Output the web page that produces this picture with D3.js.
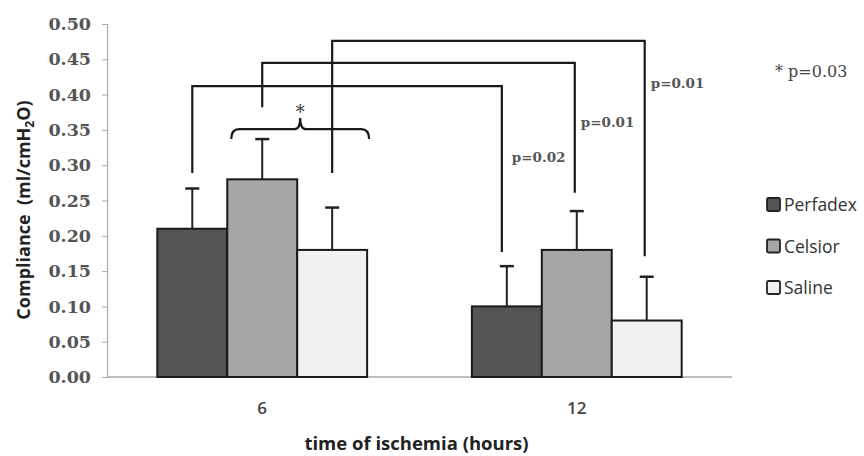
<!DOCTYPE html>
<html>
<head>
<meta charset="utf-8">
<script src="https://cdn.jsdelivr.net/npm/d3@7"></script>
<style>
  html, body { margin: 0; padding: 0; background: #fff; }
  svg { display: block; }
</style>
</head>
<body>
<svg id="chart" width="864" height="456"></svg>
<script>
// ---- data ----
const categories = ["6", "12"];
const seriesNames = ["Perfadex", "Celsior", "Saline"];
const perfadex = [0.21, 0.10];
const celsior  = [0.28, 0.18];
const saline   = [0.18, 0.08];
const perfadexErr = [0.057, 0.057];
const celsiorErr  = [0.057, 0.055];
const salineErr   = [0.060, 0.062];
const yTicks = [0, 0.05, 0.10, 0.15, 0.20, 0.25, 0.30, 0.35, 0.40, 0.45, 0.50];
// significance brackets: series index, top level, left leg bottom, right leg bottom, label
const bracketSeries = [0, 1, 2];
const bracketTop    = [0.412, 0.445, 0.476];
const bracketLeftEnd  = [0.289, 0.382, 0.289];
const bracketRightEnd = [0.177, 0.261, 0.171];
const bracketLabels = ["p=0.02", "p=0.01", "p=0.01"];
const bracketLabelLevel = [0.305, 0.354, 0.409];
const braceLevels = [0.351, 0.337, 0.367]; // level, hook end, peak
const braceStarLevel = 0.382;
const noteText = "* p=0.03";

const values = [perfadex, celsior, saline];
const errors = [perfadexErr, celsiorErr, salineErr];
const colors = ["#555555", "#a6a6a6", "#f0f0f0"];

const svg = d3.select("#chart");
const mLeft = 107, mRight = 732, mTop = 24, mBottom = 377;

const x0 = d3.scaleBand().domain(categories).range([mLeft, mRight])
  .paddingInner(0.333).paddingOuter(0.16);
const x1 = d3.scaleBand().domain(d3.range(seriesNames.length)).range([0, x0.bandwidth()]);
const y = d3.scaleLinear().domain([0, 0.5]).range([mBottom, mTop]);

const serif = "'DejaVu Serif', serif";
const sans = "'Open Sans', sans-serif";

// y axis
const yAxis = svg.append("g").attr("transform", `translate(${mLeft},0)`)
  .call(d3.axisLeft(y).tickValues(yTicks).tickFormat(d3.format(".2f")).tickSize(5).tickPadding(11));
yAxis.select(".domain").attr("stroke", "#aaa").attr("stroke-width", 1.2);
yAxis.selectAll(".tick line").attr("stroke", "#aaa");
yAxis.selectAll(".tick text").attr("font-family", serif).attr("font-size", 17.5)
  .attr("fill", "#555").attr("font-weight", "bold");

// x axis
const xAxis = svg.append("g").attr("transform", `translate(0,${mBottom})`)
  .call(d3.axisBottom(x0).tickSize(0).tickPadding(25));
xAxis.select(".domain").attr("stroke", "#aaa").attr("stroke-width", 1.5)
  .attr("d", `M${mLeft},0H${mRight}`);
xAxis.selectAll(".tick text").attr("font-family", sans).attr("font-size", 17)
  .attr("fill", "#444").attr("font-weight", "600");

// bars
const barData = [];
categories.forEach((c, ci) => seriesNames.forEach((s, si) => {
  barData.push({ c, ci, si, v: values[si][ci], e: errors[si][ci] });
}));
const bx = d => x0(d.c) + x1(d.si);
const bcx = d => bx(d) + x1.bandwidth() / 2;

svg.append("g").selectAll("line").data(barData).join("line")
  .attr("x1", bcx).attr("x2", bcx)
  .attr("y1", d => y(d.v)).attr("y2", d => y(d.v + d.e))
  .attr("stroke", "#222").attr("stroke-width", 2);
svg.append("g").selectAll("line").data(barData).join("line")
  .attr("x1", d => bcx(d) - 7).attr("x2", d => bcx(d) + 7)
  .attr("y1", d => y(d.v + d.e)).attr("y2", d => y(d.v + d.e))
  .attr("stroke", "#222").attr("stroke-width", 2.5);

svg.append("g").selectAll("rect").data(barData).join("rect")
  .attr("x", bx).attr("y", d => y(d.v))
  .attr("width", x1.bandwidth()).attr("height", d => y(0) - y(d.v))
  .attr("fill", d => colors[d.si]).attr("stroke", "#1a1a1a").attr("stroke-width", 2);

// brackets
const bline = svg.append("g").attr("fill", "none").attr("stroke", "#1a1a1a").attr("stroke-width", 2.2);
bracketSeries.forEach((si, i) => {
  const xl = x0(categories[0]) + x1(si) + x1.bandwidth() / 2;
  const xr = x0(categories[1]) + x1(si) + x1.bandwidth() / 2 - (i === 0 ? 5 : 2);
  bline.append("path")
    .attr("d", `M${xl},${y(bracketLeftEnd[i])}V${y(bracketTop[i])}H${xr}V${y(bracketRightEnd[i])}`);
  const lab = svg.append("text").attr("y", y(bracketLabelLevel[i]))
    .text(bracketLabels[i]).attr("font-family", serif).attr("font-size", 13.5)
    .attr("fill", "#555").attr("font-weight", "bold");
  if (i === 0) lab.attr("x", xr + 10); else lab.attr("x", xr + 6);
});

// curly brace
{
  const l = x0(categories[0]) + x1(1) + 4;
  const r = x0(categories[0]) + x1(2) + x1.bandwidth() + 2;
  const m = (l + r) / 2;
  const yl = y(braceLevels[0]), yh = y(braceLevels[1]), yp = y(braceLevels[2]);
  bline.append("path").attr("d",
    `M${l},${yh}Q${l},${yl} ${l + 8},${yl}L${m - 6},${yl}Q${m},${yl} ${m},${yp}` +
    `Q${m},${yl} ${m + 6},${yl}L${r - 8},${yl}Q${r},${yl} ${r},${yh}`);
  svg.append("text").attr("x", m).attr("y", y(braceStarLevel) + 11)
    .attr("text-anchor", "middle").text("*")
    .attr("font-family", serif).attr("font-size", 18).attr("font-weight", "bold").attr("fill", "#555");
}

// note
svg.append("text").attr("x", 775).attr("y", 77).text(noteText)
  .attr("font-family", serif).attr("font-size", 16).attr("fill", "#444");

// legend
const lg = svg.append("g");
seriesNames.forEach((s, i) => {
  const cy = 205 + i * 41.5;
  lg.append("rect").attr("x", 767).attr("y", cy - 7).attr("width", 13).attr("height", 13)
    .attr("fill", colors[i]).attr("stroke", "#222").attr("stroke-width", 1.8).attr("rx", 1.5);
  lg.append("text").attr("x", 784).attr("y", cy + 6).text(s)
    .attr("font-family", sans).attr("font-size", 17.5).attr("fill", "#333");
});

// axis titles
svg.append("text").attr("x", (mLeft + mRight) / 2 - 3).attr("y", 450)
  .attr("text-anchor", "middle").text("time of ischemia (hours)")
  .attr("font-family", sans).attr("font-size", 18.5).attr("font-weight", "bold").attr("fill", "#222");

const yt = svg.append("text").attr("transform", "translate(30,210) rotate(-90)")
  .attr("text-anchor", "middle")
  .attr("font-family", sans).attr("font-size", 18).attr("font-weight", "bold").attr("fill", "#222");
yt.append("tspan").text("Compliance\u00a0\u00a0(ml/cmH");
yt.append("tspan").text("2").attr("font-size", 12).attr("dy", 4);
yt.append("tspan").text("O)").attr("dy", -4);
</script>
</body>
</html>
